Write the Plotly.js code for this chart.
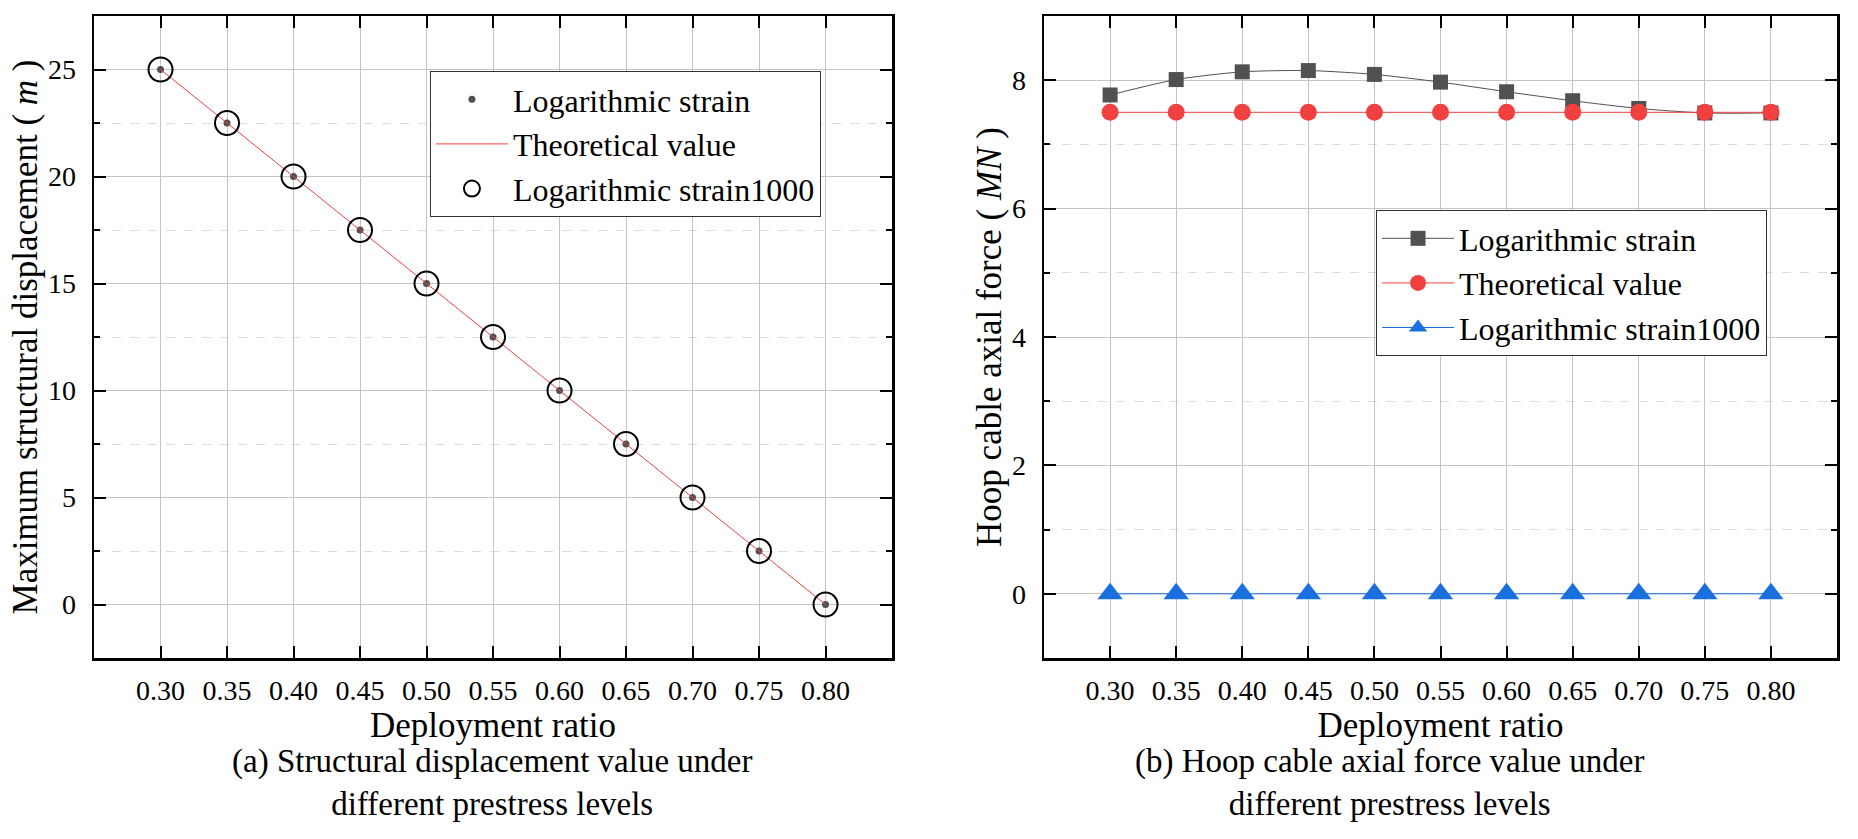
<!DOCTYPE html>
<html>
<head>
<meta charset="utf-8">
<script src="https://cdn.plot.ly/plotly-3.0.1.min.js"></script>
<style>
  html, body { margin: 0; padding: 0; background: #fff; }
  #plot { width: 1858px; height: 839px; }
</style>
</head>
<body>
<div id="plot"></div>
<script>
// deployment ratio (shared x) and tick labels
var ratio = [0.30, 0.35, 0.40, 0.45, 0.50, 0.55, 0.60, 0.65, 0.70, 0.75, 0.80];
var ratioText = ['0.30', '0.35', '0.40', '0.45', '0.50', '0.55', '0.60', '0.65', '0.70', '0.75', '0.80'];

// (a) maximum structural displacement (m)
var dispLog = [25, 22.5, 20, 17.5, 15, 12.5, 10, 7.5, 5, 2.5, 0];
var dispTheory = [25, 22.5, 20, 17.5, 15, 12.5, 10, 7.5, 5, 2.5, 0];
var dispLog1000 = [25, 22.5, 20, 17.5, 15, 12.5, 10, 7.5, 5, 2.5, 0];

// (b) hoop cable axial force (MN)
var forceLog = [7.77, 8.01, 8.13, 8.15, 8.09, 7.97, 7.82, 7.68, 7.56, 7.49, 7.49];
var forceTheory = [7.5, 7.5, 7.5, 7.5, 7.5, 7.5, 7.5, 7.5, 7.5, 7.5, 7.5];
var forceLog1000 = [0, 0, 0, 0, 0, 0, 0, 0, 0, 0, 0];

var serif = '"Liberation Serif", "Times New Roman", serif';
var gray = '#515151', red = '#F14040', blue = '#1A6FDF';

var traces = [
  {x: ratio, y: dispLog, name: 'Logarithmic strain', mode: 'markers', type: 'scatter',
   marker: {color: gray, size: 7}, xaxis: 'x', yaxis: 'y', legend: 'legend'},
  {x: ratio, y: dispTheory, name: 'Theoretical value', mode: 'lines', type: 'scatter',
   line: {color: red, width: 1}, xaxis: 'x', yaxis: 'y', legend: 'legend'},
  {x: ratio, y: dispLog1000, name: 'Logarithmic strain1000', mode: 'markers', type: 'scatter',
   marker: {symbol: 'circle-open', color: '#000', size: 24, line: {width: 2}},
   xaxis: 'x', yaxis: 'y', legend: 'legend'},

  {x: ratio, y: forceLog, name: 'Logarithmic strain', mode: 'lines+markers', type: 'scatter',
   line: {color: gray, width: 1, shape: 'spline', smoothing: 0.7},
   marker: {symbol: 'square', color: gray, size: 15}, xaxis: 'x2', yaxis: 'y2', legend: 'legend2'},
  {x: ratio, y: forceTheory, name: 'Theoretical value', mode: 'lines+markers', type: 'scatter',
   line: {color: red, width: 1}, marker: {color: red, size: 17},
   xaxis: 'x2', yaxis: 'y2', legend: 'legend2'},
  {x: ratio, y: forceLog1000, name: 'Logarithmic strain1000', mode: 'lines+markers', type: 'scatter',
   line: {color: blue, width: 1}, marker: {symbol: 'triangle-up', color: blue, size: 22},
   xaxis: 'x2', yaxis: 'y2', legend: 'legend2'}
];

var tickFont = {family: serif, size: 28, color: '#000'};
var titleFont = {family: serif, size: 35, color: '#000'};

function xAxis(domain, anchor) {
  return {
    domain: domain, anchor: anchor, range: [0.25, 0.85],
    tickvals: ratio, ticktext: ratioText, tickfont: tickFont,
    ticks: 'inside', ticklen: 12, tickwidth: 2, tickcolor: '#000',
    showline: true, linewidth: 2.5, linecolor: '#000', mirror: 'ticks',
    showgrid: true, gridcolor: '#c4c4c4', gridwidth: 1, zeroline: false,
    ticklabelstandoff: 6,
    title: {text: 'Deployment ratio', font: titleFont, standoff: 4}
  };
}
function yAxis(range, dtick, anchor, title) {
  return {
    anchor: anchor, range: range, dtick: dtick, tick0: 0, tickfont: tickFont,
    ticks: 'inside', ticklen: 12, tickwidth: 2, tickcolor: '#000',
    showline: true, linewidth: 2.5, linecolor: '#000', mirror: 'ticks',
    showgrid: true, gridcolor: '#c4c4c4', gridwidth: 1, zeroline: false,
    ticklabelstandoff: 10,
    minor: {dtick: dtick / 2, ticks: 'inside', ticklen: 6, tickwidth: 2, tickcolor: '#000',
            showgrid: true, gridcolor: '#dcdcdc', griddash: 'dash', gridwidth: 1},
    title: {text: title, font: titleFont, standoff: 0}
  };
}

var legendStyle = function(x, y) {
  return {x: x, y: y, xanchor: 'left', yanchor: 'top', xref: 'paper', yref: 'paper',
          bgcolor: '#fff', bordercolor: '#333', borderwidth: 1,
          font: {family: serif, size: 32, color: '#000'}, itemwidth: 72, tracegroupgap: 0};
};

var layout = {
  width: 1858, height: 839,
  margin: {l: 0, r: 0, t: 16, b: 181},
  paper_bgcolor: '#fff', plot_bgcolor: '#fff',
  showlegend: true,
  xaxis: xAxis([0.0506, 0.4801], 'y'),
  yaxis: yAxis([-2.5, 27.5], 5, 'x', 'Maximum structural displacement ( <i>m</i> )'),
  xaxis2: xAxis([0.5619, 0.9887], 'y2'),
  yaxis2: yAxis([-1, 9], 2, 'x2', 'Hoop cable axial force ( <i>MN</i> )'),
  legend: legendStyle(0.2314, 0.9143),
  legend2: legendStyle(0.7406, 0.6978),
  annotations: [
    {text: '(a) Structural displacement value under<br>different prestress levels',
     xref: 'paper', yref: 'paper', x: 0.2648, y: -0.1947, xanchor: 'center', yanchor: 'middle',
     showarrow: false, font: {family: serif, size: 33, color: '#000'}},
    {text: '(b) Hoop cable axial force value under<br>different prestress levels',
     xref: 'paper', yref: 'paper', x: 0.748, y: -0.1947, xanchor: 'center', yanchor: 'middle',
     showarrow: false, font: {family: serif, size: 33, color: '#000'}}
  ]
};

Plotly.newPlot('plot', traces, layout, {staticPlot: true});
</script>
</body>
</html>
